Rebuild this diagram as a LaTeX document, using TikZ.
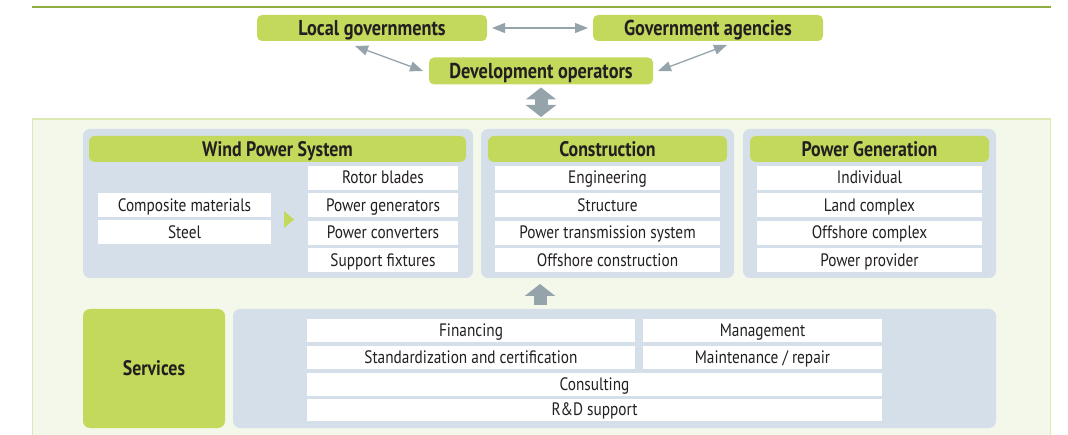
\documentclass[tikz,border=0pt]{standalone}
\usepackage{fontspec}
\setmainfont{PT Sans}[FakeStretch=0.85]
\usetikzlibrary{arrows.meta}
\definecolor{hdgreen}{HTML}{C3D95B}
\definecolor{panelblue}{HTML}{D5DFEA}
\definecolor{bggreen}{HTML}{F4F8EA}
\definecolor{bgedge}{HTML}{DCE9B5}
\definecolor{lineolive}{HTML}{8EAD3E}
\definecolor{arrowgray}{HTML}{95A3AB}
\definecolor{ink}{HTML}{231F20}
\begin{document}
\begin{tikzpicture}[x=1pt,y=-1pt,
    every node/.style={inner sep=0pt,outer sep=0pt,text=ink},
    topbox/.style={fill=hdgreen,rounded corners=5pt,minimum height=26pt,text height=15.3pt,text depth=0.3pt,font=\fontsize{21.5}{23}\selectfont\bfseries},
    header/.style={fill=hdgreen,rounded corners=6pt,minimum height=26pt,text height=15pt,text depth=0.3pt,font=\fontsize{21}{23}\selectfont\bfseries},
    panel/.style={fill=panelblue,rounded corners=7pt,minimum height=149pt},
    item/.style={fill=white,minimum height=24pt,text height=12pt,text depth=0.4pt,font=\fontsize{18}{20}\selectfont},
    thinarrow/.style={draw=arrowgray,line width=1.3pt,{Triangle[width=10pt,length=13pt]}-{Triangle[width=10pt,length=13pt]}},
    fatarrow/.style={draw=arrowgray,line width=13pt,-{Triangle[width=30pt,length=12pt]}},
    fatboth/.style={draw=arrowgray,line width=13pt,{Triangle[width=30pt,length=12pt]}-{Triangle[width=30pt,length=12pt]}}]
    \useasboundingbox (0,0) rectangle (1068,435);
    \draw[lineolive,line width=2.5pt] (32,7) -- (1051,7);
    \node[fill=bggreen,draw=bgedge,line width=1.2pt,minimum width=1018pt,minimum height=330pt,anchor=north west] (bg) at (32.5,119) {};
    \node[topbox,minimum width=230pt] (loc) at (372,28) {Local governments};
    \node[topbox,minimum width=230pt] (gov) at (708,28) {Government agencies};
    \node[topbox,minimum width=224pt,minimum height=27pt] (dev) at (541,71) {Development operators};
    \draw[thinarrow,shorten <=5pt,shorten >=5pt] (loc.east) -- (gov.west);
    \draw[thinarrow] ([xshift=-17pt,yshift=-5pt]loc.south) -- ([xshift=-6pt]dev.west);
    \draw[thinarrow] ([xshift=19pt,yshift=-4pt]gov.south) -- ([xshift=5pt]dev.east);
    \draw[fatboth,shorten <=3pt,shorten >=2pt] (dev.south) -- (dev.south |- bg.north);
    \node[panel,minimum width=390pt] (wps) at (278,203.5) {};
    \node[panel,minimum width=253pt] (con) at (607.5,203.5) {};
    \node[panel,minimum width=253pt] (gen) at (869.5,203.5) {};
    \node[header,minimum width=377pt] (wpshd) at (277.5,149) {Wind Power System};
    \node[header,minimum width=239pt] (conhd) at (607.5,149) {Construction};
    \node[header,minimum width=239pt] (genhd) at (869.5,149) {Power Generation};
    \node[item,minimum width=173pt] (comp) at (184.5,205.5) {Composite materials};
    \node[item,minimum width=173pt] (steel) at (184.5,232.5) {Steel};
    \fill[hdgreen] (284,211) -- (294,219.5) -- (284,228) -- cycle;
    \node[item,minimum width=150pt] (rotor) at (383,178) {Rotor blades};
    \node[item,minimum width=150pt] (pgen) at (383,205.5) {Power generators};
    \node[item,minimum width=150pt] (pconv) at (383,233) {Power converters};
    \node[item,minimum width=150pt] (fix) at (383,260.5) {Support fixtures};
    \node[item,minimum width=225pt] (eng) at (607.5,178) {Engineering};
    \node[item,minimum width=225pt] (struc) at (607.5,205.5) {Structure};
    \node[item,minimum width=225pt] (trans) at (607.5,233) {Power transmission system};
    \node[item,minimum width=225pt] (offc) at (607.5,260.5) {Offshore construction};
    \node[item,minimum width=225pt] (indiv) at (869.5,178) {Individual};
    \node[item,minimum width=225pt] (land) at (869.5,205.5) {Land complex};
    \node[item,minimum width=225pt] (offx) at (869.5,233) {Offshore complex};
    \node[item,minimum width=225pt] (prov) at (869.5,260.5) {Power provider};
    \node[header,rounded corners=7pt,minimum width=142pt,minimum height=119pt] (srv) at (154,368.5) {Services};
    \node[fill=panelblue,rounded corners=7pt,minimum width=763pt,minimum height=119pt] (srvp) at (614.5,368.5) {};
    \node[item,minimum width=328pt,minimum height=23pt] (fin) at (471,331) {Financing};
    \node[item,minimum width=239pt,minimum height=23pt] (mgmt) at (762.5,331) {Management};
    \node[item,minimum width=328pt,minimum height=23pt] (std) at (471,358) {Standardization and certification};
    \node[item,minimum width=239pt,minimum height=23pt] (maint) at (762.5,358) {Maintenance / repair};
    \node[item,minimum width=575pt,minimum height=23pt] (cons) at (594.5,384.5) {Consulting};
    \node[item,minimum width=575pt,minimum height=22pt] (rnd) at (594.5,410) {R\&D support};
    \coordinate (upfoot) at (540,305);
    \draw[fatarrow,shorten >=6pt] (upfoot) -- (upfoot |- con.south);
\end{tikzpicture}
\end{document}
